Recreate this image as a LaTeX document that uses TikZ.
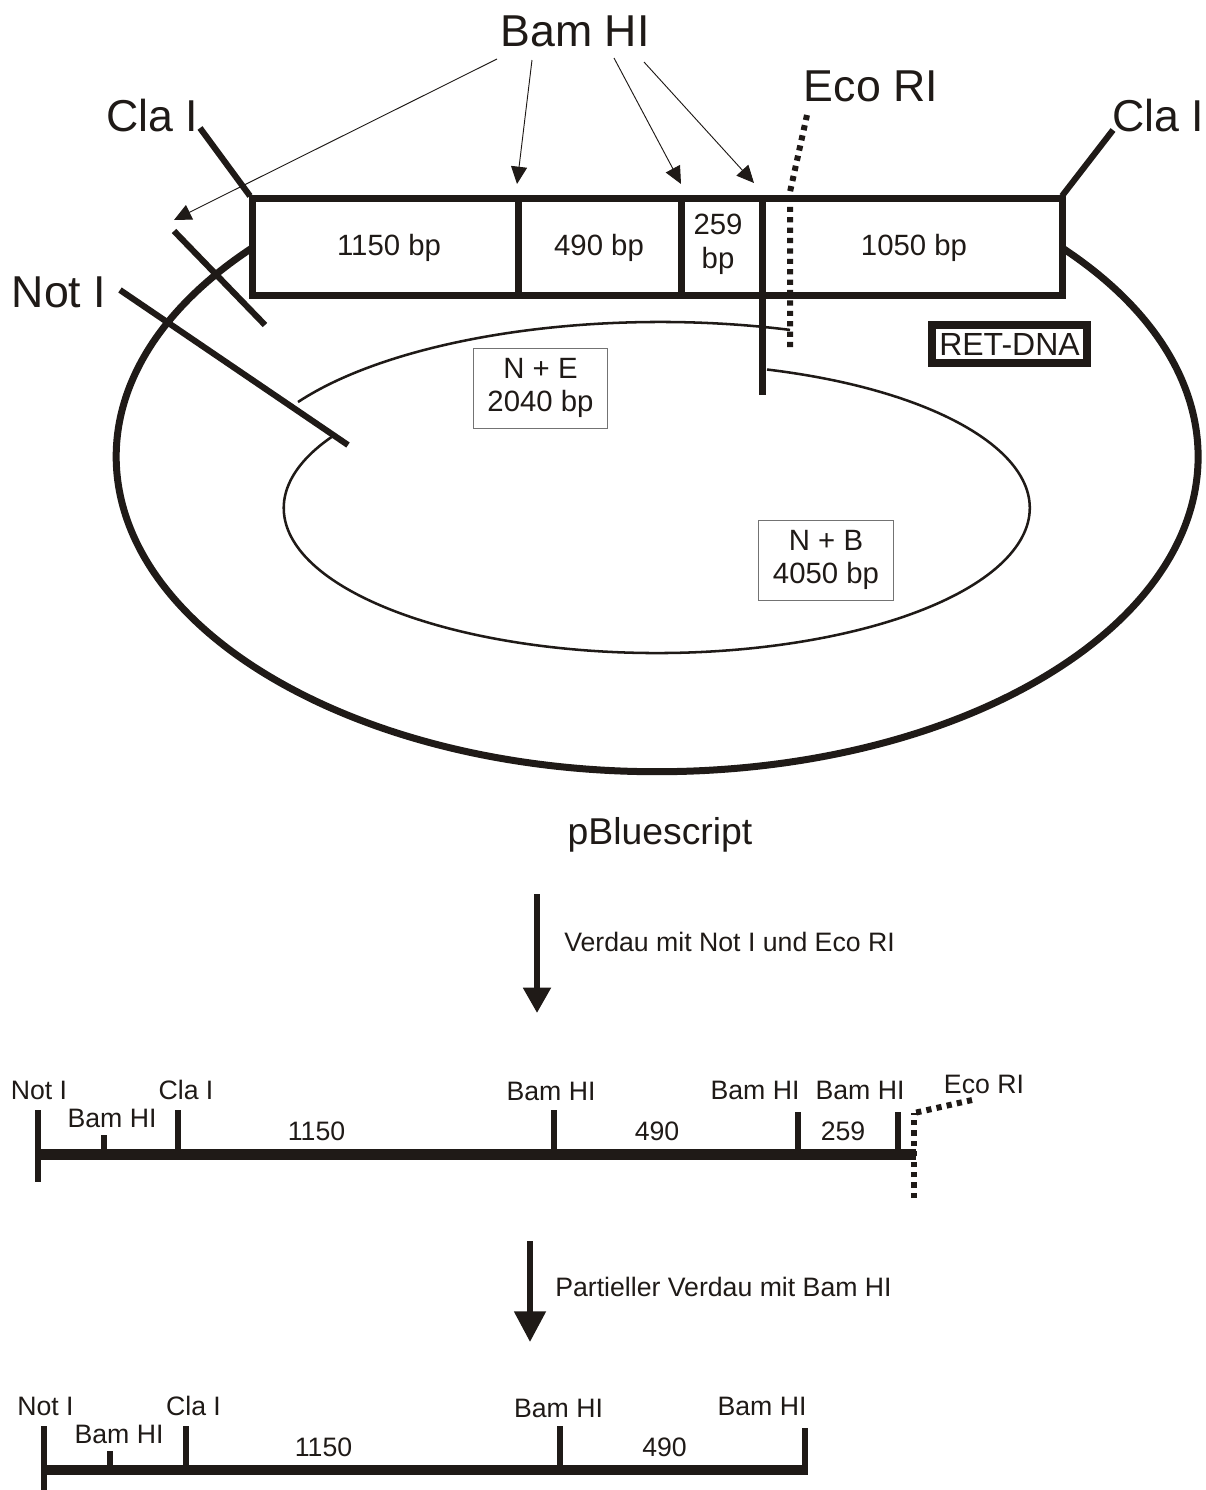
\documentclass[tikz,border=0pt]{standalone}
\usepackage{fontspec}
\setmainfont{Liberation Sans}
\usetikzlibrary{arrows.meta}
\definecolor{inkdark}{RGB}{31,26,23}
\tikzset{
  biglabel/.style={inner sep=0pt,text=inkdark,font=\fontsize{33.5pt}{40pt}\selectfont},
  midlabel/.style={inner sep=0pt,text=inkdark,align=center,font=\fontsize{22pt}{25.2pt}\selectfont},
  smalllabel/.style={inner sep=0pt,text=inkdark,font=\fontsize{20pt}{24pt}\selectfont},
  fragbox/.style={draw=black!55,line width=0.7pt,minimum width=101pt,minimum height=60pt,inner sep=0pt,text=inkdark,align=center,font=\fontsize{22pt}{25pt}\selectfont},
  heavy/.style={draw=inkdark,line width=5.25pt},
  sitecut/.style={draw=inkdark,line width=4.6pt},
  tick/.style={draw=inkdark,line width=4.5pt},
  strand/.style={draw=inkdark,line width=8.2pt},
  dotcut/.style={draw=inkdark,line width=4.5pt,dash pattern={on 3.9pt off 3.9pt}},
  pointer/.style={draw=inkdark,line width=0.7pt,-{Triangle[length=13pt,width=12pt,fill=inkdark]}},
  stagearrow/.style={draw=inkdark,line width=4.5pt,-{Triangle[length=19pt,width=20pt,fill=inkdark]}},
  stagearrowbig/.style={draw=inkdark,line width=4.5pt,-{Triangle[length=23pt,width=23pt,fill=inkdark]}}
}
\begin{document}
\begin{tikzpicture}[x=0.75pt,y=0.75pt,yscale=-1,xscale=1]
\useasboundingbox (0,0) rectangle (1206,1490);

% Plasmid rings
\draw [draw=inkdark,line width=5.25pt] (252,248) arc [start angle=221.5,end angle=-41.5,x radius=541,y radius=315];
\draw [draw=inkdark,line width=1.9pt] (767,369.5) arc [start angle=-72.8,end angle=209.3,x radius=373,y radius=145];
\draw [draw=inkdark,line width=1.9pt] (298,402) arc [start angle=210.4,end angle=288,x radius=420,y radius=162];

% Insert box
\coordinate (boxNW) at (252,198);
\coordinate (boxSE) at (1062,295);
\draw [heavy] (boxNW) rectangle (boxSE);
\coordinate (divAtop) at (518,198);
\coordinate (divAbot) at (518,295);
\coordinate (divBtop) at (681,198);
\coordinate (divBbot) at (681,295);
\coordinate (divCtop) at (762,198);
\coordinate (divCbot) at (762,395);
\draw [heavy] (divAtop) -- (divAbot);
\draw [heavy] (divBtop) -- (divBbot);
\draw [heavy] (divCtop) -- (divCbot);

% Text Node
\node [midlabel] (insA) at (389,248) {1150 bp};
\node [midlabel] (insB) at (599,248) {490 bp};
\node [midlabel] (insC) at (718,244) {259\\bp};
\node [midlabel] (insD) at (914,248) {1050 bp};
\node [fragbox] (fragNE) at (540.5,388) {N + E\\2040 bp};
\node [fragbox] (fragNB) at (826,560) {N + B\\4050 bp};
\node [draw=inkdark,line width=6pt,minimum width=116.25pt,minimum height=28.5pt,inner sep=0pt,text=inkdark,font=\fontsize{24pt}{28pt}\selectfont] (retDna) at (1009.5,344) {RET-DNA};

% Site labels
\node [biglabel] (bamTop) at (575,31) {Bam HI};
\node [biglabel] (ecoTop) at (871,86) {Eco RI};
\node [biglabel] (claLeft) at (152,115.5) {Cla I};
\node [biglabel] (claRight) at (1158,115.5) {Cla I};
\node [biglabel] (notTop) at (59,292) {Not I};
\node [font=\fontsize{28pt}{32pt}\selectfont,inner sep=0pt,text=inkdark] (vector) at (660,835) {pBluescript};

% Site lines
\coordinate (claLeftA) at (200,128);
\coordinate (claLeftB) at (250,196);
\coordinate (claRightA) at (1113,130);
\coordinate (claRightB) at (1062,196);
\coordinate (notA) at (120,290);
\coordinate (notB) at (348,445);
\coordinate (bamCutA) at (174,231);
\coordinate (bamCutB) at (265,325);
\draw [sitecut] (claLeftA) -- (claLeftB);
\draw [sitecut] (claRightA) -- (claRightB);
\draw [sitecut] (notA) -- (notB);
\draw [sitecut] (bamCutA) -- (bamCutB);

% Eco RI dotted
\coordinate (ecoA) at (807,115);
\coordinate (ecoB) at (790,192);
\coordinate (ecoC) at (790,349);
\draw [dotcut] (ecoA) -- (ecoB) -- (ecoC);

% Bam HI pointers
\coordinate (bamFromA) at (497,59);
\coordinate (bamFromB) at (532,60);
\coordinate (bamFromC) at (614,58);
\coordinate (bamFromD) at (644,62);
\coordinate (bamToA) at (174,220);
\coordinate (bamToB) at (517,184);
\coordinate (bamToC) at (681,184);
\coordinate (bamToD) at (754,183);
\draw [pointer] (bamFromA) -- (bamToA);
\draw [pointer] (bamFromB) -- (bamToB);
\draw [pointer] (bamFromC) -- (bamToC);
\draw [pointer] (bamFromD) -- (bamToD);

% First digest
\coordinate (stepOneA) at (537,894);
\coordinate (stepOneB) at (537,1013);
\draw [stagearrow] (stepOneA) -- (stepOneB);
\node [smalllabel,anchor=west] (stepOneText) at (564,942) {Verdau mit Not I und Eco RI};

% Fragment after first digest
\coordinate (oneL) at (35,1154.5);
\coordinate (oneR) at (916,1154.5);
\draw [strand] (oneL) -- (oneR);
\coordinate (oneNotA) at (38,1110);
\coordinate (oneNotB) at (38,1182);
\coordinate (oneBamA) at (104,1135);
\coordinate (oneBamB) at (104,1154);
\coordinate (oneClaA) at (178,1110);
\coordinate (oneClaB) at (178,1154);
\coordinate (oneBam2A) at (554,1110);
\coordinate (oneBam2B) at (554,1154);
\coordinate (oneBam3A) at (798,1112);
\coordinate (oneBam3B) at (798,1154);
\coordinate (oneBam4A) at (898,1112);
\coordinate (oneBam4B) at (898,1154);
\draw [tick] (oneNotA) -- (oneNotB);
\draw [tick] (oneBamA) -- (oneBamB);
\draw [tick] (oneClaA) -- (oneClaB);
\draw [tick] (oneBam2A) -- (oneBam2B);
\draw [tick] (oneBam3A) -- (oneBam3B);
\draw [tick] (oneBam4A) -- (oneBam4B);
\coordinate (oneEcoA) at (972,1100);
\coordinate (oneEcoB) at (914,1113);
\coordinate (oneEcoC) at (914,1198);
\draw [dotcut] (oneEcoC) -- (oneEcoB);
\draw [dotcut] (oneEcoA) -- (oneEcoB);
\node [smalllabel] (oneNot) at (39,1090) {Not I};
\node [smalllabel] (oneBam) at (112,1118) {Bam HI};
\node [smalllabel] (oneCla) at (186,1090) {Cla I};
\node [smalllabel] (oneLenA) at (316.5,1131) {1150};
\node [smalllabel] (oneBam2) at (551,1091) {Bam HI};
\node [smalllabel] (oneLenB) at (657,1131) {490};
\node [smalllabel] (oneBam3) at (755,1090) {Bam HI};
\node [smalllabel] (oneBam4) at (860,1090) {Bam HI};
\node [smalllabel] (oneLenC) at (843,1131) {259};
\node [smalllabel] (oneEco) at (984,1084) {Eco RI};

% Second digest
\coordinate (stepTwoA) at (530,1241);
\coordinate (stepTwoB) at (530,1342);
\draw [stagearrowbig] (stepTwoA) -- (stepTwoB);
\node [smalllabel,anchor=west] (stepTwoText) at (555,1287) {Partieller Verdau mit Bam HI};

% Fragment after partial digest
\coordinate (twoL) at (42,1470);
\coordinate (twoR) at (808,1470);
\draw [strand] (twoL) -- (twoR);
\coordinate (twoNotA) at (44,1426);
\coordinate (twoNotB) at (44,1490);
\coordinate (twoBamA) at (110,1451);
\coordinate (twoBamB) at (110,1470);
\coordinate (twoClaA) at (186,1426);
\coordinate (twoClaB) at (186,1470);
\coordinate (twoBam2A) at (560,1426);
\coordinate (twoBam2B) at (560,1470);
\coordinate (twoBam3A) at (805,1428);
\coordinate (twoBam3B) at (805,1470);
\draw [tick] (twoNotA) -- (twoNotB);
\draw [tick] (twoBamA) -- (twoBamB);
\draw [tick] (twoClaA) -- (twoClaB);
\draw [tick] (twoBam2A) -- (twoBam2B);
\draw [tick] (twoBam3A) -- (twoBam3B);
\node [smalllabel] (twoNot) at (45.5,1406) {Not I};
\node [smalllabel] (twoBam) at (119,1434) {Bam HI};
\node [smalllabel] (twoCla) at (193.5,1406) {Cla I};
\node [smalllabel] (twoLenA) at (323.5,1447) {1150};
\node [smalllabel] (twoBam2) at (558.5,1408) {Bam HI};
\node [smalllabel] (twoLenB) at (664.5,1447) {490};
\node [smalllabel] (twoBam3) at (762,1406) {Bam HI};

\end{tikzpicture}
\end{document}
